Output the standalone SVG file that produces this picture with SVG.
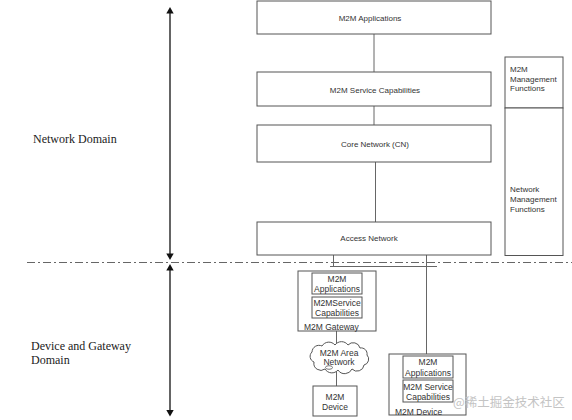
<svg xmlns="http://www.w3.org/2000/svg" width="572" height="420" viewBox="0 0 572 420">
<style>
.box{fill:#fff;stroke:#555;stroke-width:1}
.ln{fill:none;stroke:#666;stroke-width:1}
.ax{fill:none;stroke:#111;stroke-width:1.3}
.t{font-family:"Liberation Sans",Arial,sans-serif;font-size:8px;fill:#333}
.s{font-family:"Liberation Sans",Arial,sans-serif;font-size:8.5px;fill:#333}
.m{text-anchor:middle}
.d{font-family:"Liberation Serif","Times New Roman",serif;font-size:12px;fill:#222}
.wm{font-family:"Noto Sans CJK SC",sans-serif;font-size:12.5px;fill:#c4c4c4}
</style>
<rect width="572" height="420" fill="#fff"/>
<g id="connectors">
<line class="ln" x1="374" y1="34" x2="374" y2="72"/>
<line class="ln" x1="374" y1="106" x2="374" y2="125"/>
<line class="ln" x1="375.5" y1="162" x2="375.5" y2="222"/>
<line class="ln" x1="333.5" y1="255" x2="333.5" y2="267"/>
<line class="ln" x1="330" y1="266.5" x2="437" y2="266.5"/>
<line class="ln" x1="426.5" y1="255" x2="426.5" y2="354"/>
<line class="ln" x1="336.5" y1="331" x2="336.5" y2="345"/>
<line class="ln" x1="336.5" y1="370" x2="336.5" y2="386"/>
<line x1="27" y1="262.5" x2="572" y2="262.5" stroke="#666" stroke-width="1" stroke-dasharray="8 3 2 3"/>
<line class="ax" x1="170" y1="12" x2="170" y2="255"/>
<polygon points="170,7 166.3,13.5 173.7,13.5" fill="#111"/>
<polygon points="170,260 166.3,253.5 173.7,253.5" fill="#111"/>
<line class="ax" x1="170" y1="269" x2="170" y2="411"/>
<polygon points="170,264 166.3,270.5 173.7,270.5" fill="#111"/>
<polygon points="170,416.5 166.3,410 173.7,410" fill="#111"/>
</g>
<g id="network-domain-label"><text class="d" x="33" y="143">Network Domain</text></g>
<g id="device-gateway-domain-label"><text class="d" x="31" y="350">Device and Gateway</text><text class="d" x="31" y="364">Domain</text></g>
<g id="m2m-applications"><rect class="box" x="257" y="1" width="234" height="33"/><text class="t m" x="370" y="21">M2M Applications</text></g>
<g id="m2m-service-capabilities"><rect class="box" x="257" y="72" width="234" height="34"/><text class="t m" x="375" y="93">M2M Service Capabilities</text></g>
<g id="core-network"><rect class="box" x="257" y="125" width="234" height="37"/><text class="t m" x="375" y="147">Core Network (CN)</text></g>
<g id="access-network"><rect class="box" x="257" y="222" width="234" height="33"/><text class="t m" x="369" y="240.5">Access Network</text></g>
<g id="m2m-management-functions"><rect class="box" x="505" y="57" width="58" height="51"/><text class="t" x="510" y="72">M2M</text><text class="t" x="510" y="81.5">Management</text><text class="t" x="510" y="91">Functions</text></g>
<g id="network-management-functions"><rect class="box" x="505" y="108" width="58" height="147.5"/><text class="t" x="510" y="192">Network</text><text class="t" x="510" y="202">Management</text><text class="t" x="510" y="212">Functions</text></g>
<g id="m2m-gateway">
<rect class="box" x="298" y="271" width="78" height="60"/>
<rect class="box" x="312" y="273" width="50" height="21"/>
<text class="s m" x="337" y="281.5">M2M</text><text class="s m" x="337" y="292">Applications</text>
<rect class="box" x="312" y="297" width="50" height="21"/>
<text class="s m" x="337" y="306">M2MService</text><text class="s m" x="337" y="316">Capabilities</text>
<text class="s" x="304" y="329.5">M2M Gateway</text>
</g>
<g id="m2m-area-network">
<path class="box" d="M314,362 a6,6 0 0 1 -2,-10 a7,7 0 0 1 10,-6 a8,8 0 0 1 13,-1 a8,8 0 0 1 13,0 a7,7 0 0 1 12,3 a6,6 0 0 1 7,7 a6,6 0 0 1 -3,10 a7,7 0 0 1 -12,4 a8,8 0 0 1 -14,1 a8,8 0 0 1 -13,-1 a7,7 0 0 1 -11,-7 Z"/>
<ellipse cx="329" cy="367.5" rx="3.5" ry="1.8" fill="#fff" stroke="#555" stroke-width="0.8"/>
<text class="s m" x="339" y="355.5">M2M Area</text><text class="s m" x="339" y="365">Network</text>
</g>
<g id="m2m-device-left"><rect class="box" x="313" y="386" width="44" height="30"/><text class="s m" x="335" y="399.5">M2M</text><text class="s m" x="335" y="409.5">Device</text></g>
<g id="m2m-device-right">
<rect class="box" x="389" y="354" width="77" height="61"/>
<rect class="box" x="403" y="356" width="50" height="22"/>
<text class="s m" x="428" y="364.5">M2M</text><text class="s m" x="428" y="376">Applications</text>
<rect class="box" x="403" y="380" width="50" height="22"/>
<text class="s m" x="428" y="390">M2M Service</text><text class="s m" x="428" y="399.5">Capabilities</text>
<text class="s" x="395" y="414.5">M2M Device</text>
</g>
<text class="wm" x="453" y="407">@稀土掘金技术社区</text>
</svg>
